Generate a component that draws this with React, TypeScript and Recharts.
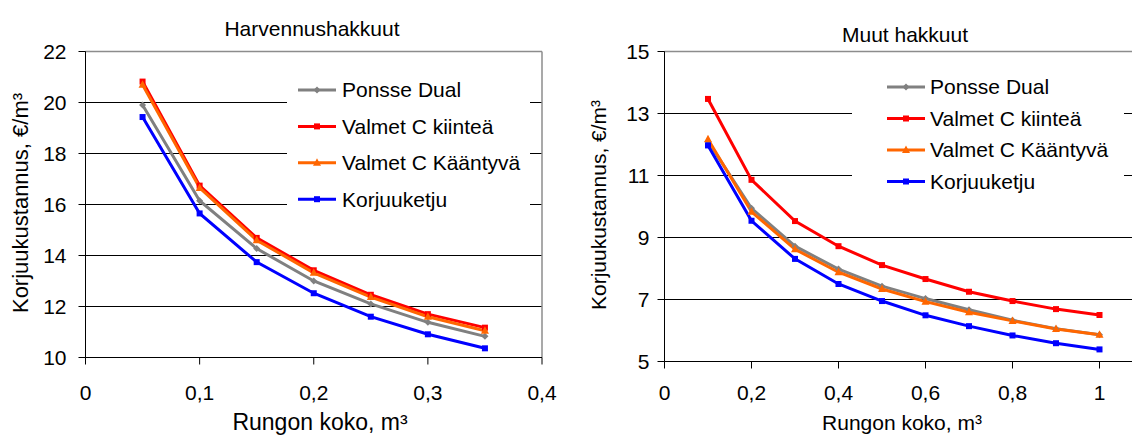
import { LineChart, Line, XAxis, YAxis, CartesianGrid, Legend, ReferenceLine } from 'recharts';

// Rungon koko (m3) and korjuukustannus (€/m3) per machine
const LEFT_X = [0.05, 0.1, 0.15, 0.2, 0.25, 0.3, 0.35];
const LEFT_PONSSE = [19.9, 16.15, 14.27, 13.0, 12.1, 11.38, 10.83];
const LEFT_KIINTEA = [20.82, 16.74, 14.69, 13.42, 12.46, 11.7, 11.17];
const LEFT_KAANTYVA = [20.7, 16.65, 14.6, 13.32, 12.37, 11.6, 11.05];
const LEFT_KORJUU = [19.43, 15.65, 13.74, 12.52, 11.6, 10.91, 10.36];

const RIGHT_X = [0.1, 0.2, 0.3, 0.4, 0.5, 0.6, 0.7, 0.8, 0.9, 1.0];
const RIGHT_PONSSE = [12.1, 9.94, 8.72, 7.98, 7.43, 7.03, 6.67, 6.33, 6.06, 5.86];
const RIGHT_KIINTEA = [13.47, 10.86, 9.53, 8.72, 8.11, 7.66, 7.25, 6.95, 6.69, 6.5];
const RIGHT_KAANTYVA = [12.17, 9.83, 8.62, 7.88, 7.34, 6.93, 6.59, 6.31, 6.05, 5.86];
const RIGHT_KORJUU = [11.97, 9.54, 8.31, 7.5, 6.95, 6.49, 6.14, 5.84, 5.59, 5.39];

const LEFT_X_TICKS = [0, 0.1, 0.2, 0.3, 0.4];
const LEFT_Y_TICKS = [10, 12, 14, 16, 18, 20, 22];
const RIGHT_X_TICKS = [0, 0.2, 0.4, 0.6, 0.8, 1];
const RIGHT_Y_TICKS = [5, 7, 9, 11, 13, 15];

const SERIES = [
  { key: 'ponsse', name: 'Ponsse Dual', color: '#808080', shape: 'diamond' },
  { key: 'kiintea', name: 'Valmet C kiinteä', color: '#FF0000', shape: 'square' },
  { key: 'kaantyva', name: 'Valmet C Kääntyvä', color: '#FF6600', shape: 'triangle' },
  { key: 'korjuu', name: 'Korjuuketju', color: '#0000FF', shape: 'square' },
];

const FONT = '"Liberation Sans", Arial, sans-serif';

const leftData = LEFT_X.map((x, i) => ({
  x,
  ponsse: LEFT_PONSSE[i],
  kiintea: LEFT_KIINTEA[i],
  kaantyva: LEFT_KAANTYVA[i],
  korjuu: LEFT_KORJUU[i],
}));

const rightData = RIGHT_X.map((x, i) => ({
  x,
  ponsse: RIGHT_PONSSE[i],
  kiintea: RIGHT_KIINTEA[i],
  kaantyva: RIGHT_KAANTYVA[i],
  korjuu: RIGHT_KORJUU[i],
}));

const fmt = (v: number) => String(v).replace('.', ',');

function Marker({ cx, cy, shape, color }: { cx: number; cy: number; shape: string; color: string }) {
  if (shape === 'diamond') {
    return <path d={`M${cx},${cy - 3.5}L${cx + 3.5},${cy}L${cx},${cy + 3.5}L${cx - 3.5},${cy}Z`} fill={color} />;
  }
  if (shape === 'triangle') {
    return <path d={`M${cx},${cy - 4.5}L${cx + 4},${cy + 3}L${cx - 4},${cy + 3}Z`} fill={color} />;
  }
  return <rect x={cx - 3} y={cy - 3} width={6} height={6} fill={color} />;
}

function makeDot(shape: string, color: string) {
  return (props: any) => {
    const { cx, cy, index } = props;
    if (cx == null || cy == null) return <g key={index} />;
    return <Marker key={index} cx={cx} cy={cy} shape={shape} color={color} />;
  };
}

function LegendBox({ width, height, first, step, lineX, textX }: any) {
  return (
    <svg width={width} height={height} style={{ display: 'block', background: '#fff' }}>
      {SERIES.map((s, i) => {
        const y = first + i * step;
        return (
          <g key={s.key}>
            <line x1={lineX} x2={lineX + 38} y1={y} y2={y} stroke={s.color} strokeWidth={3} />
            <Marker cx={lineX + 19} cy={y} shape={s.shape} color={s.color} />
            <text x={textX} y={y} dy="0.355em" fontSize={21} fontFamily={FONT} fill="#000">
              {s.name}
            </text>
          </g>
        );
      })}
    </svg>
  );
}

const tickStyle = { fontSize: 21, fontFamily: FONT, fill: '#000' };

function HakkuuChart(props: any) {
  const {
    data, width, height, margin, yWidth, xHeight, xDomain, yDomain, xTicks, yTicks,
    xTickMargin, yTickMargin, legend, title, yLabel, xLabel, topValue,
  } = props;
  return (
    <LineChart width={width} height={height} data={data} margin={margin}>
      <CartesianGrid vertical={false} stroke="#000" strokeWidth={1} />
      <ReferenceLine y={topValue} stroke="#8c8c8c" strokeWidth={1.5} />
      <ReferenceLine x={xDomain[1]} stroke="#8c8c8c" strokeWidth={1.5} />
      <XAxis
        dataKey="x"
        type="number"
        domain={xDomain}
        ticks={xTicks}
        tickFormatter={fmt}
        height={xHeight}
        tickSize={7}
        tickMargin={xTickMargin}
        tick={tickStyle}
        axisLine={{ stroke: '#000' }}
        tickLine={{ stroke: '#000' }}
        allowDataOverflow
      />
      <YAxis
        type="number"
        domain={yDomain}
        ticks={yTicks}
        width={yWidth}
        tickSize={7}
        tickMargin={yTickMargin}
        tick={tickStyle}
        axisLine={{ stroke: '#000' }}
        tickLine={{ stroke: '#000' }}
        interval={0}
      />
      {SERIES.map((s) => (
        <Line
          key={s.key}
          dataKey={s.key}
          name={s.name}
          stroke={s.color}
          strokeWidth={3}
          dot={makeDot(s.shape, s.color)}
          activeDot={false}
          isAnimationActive={false}
        />
      ))}
      <Legend
        layout="vertical"
        align="center"
        verticalAlign="middle"
        wrapperStyle={{ left: legend.left, top: legend.top, width: legend.width, height: legend.height }}
        content={() => <LegendBox {...legend} />}
      />
      <text x={title.x} y={title.y} textAnchor="middle" fontSize={21} fontFamily={FONT} fill="#000">
        {title.text}
      </text>
      <text
        x={yLabel.x}
        y={yLabel.y}
        textAnchor="middle"
        fontSize={yLabel.size}
        fontFamily={FONT}
        fill="#000"
        transform={`rotate(-90, ${yLabel.x}, ${yLabel.y})`}
      >
        {'Korjuukustannus,  €/m³'}
      </text>
      <text x={xLabel.x} y={xLabel.y} textAnchor="middle" fontSize={xLabel.size} fontFamily={FONT} fill="#000">
        Rungon koko, m³
      </text>
    </LineChart>
  );
}

export default function App() {
  return (
    <div
      style={{
        position: 'fixed',
        left: 0,
        top: 0,
        width: 1132,
        height: 435,
        overflow: 'hidden',
        background: '#fff',
        fontFamily: FONT,
      }}
    >
      <div style={{ position: 'absolute', left: 0, top: 0 }}>
        <HakkuuChart
          data={leftData}
          width={560}
          height={435}
          margin={{ top: 51.5, right: 18, left: 0, bottom: 0 }}
          yWidth={85.5}
          xHeight={77.5}
          xDomain={[0, 0.4]}
          yDomain={[10, 22]}
          xTicks={LEFT_X_TICKS}
          yTicks={LEFT_Y_TICKS}
          xTickMargin={21}
          yTickMargin={12}
          topValue={22}
          legend={{ left: 287, top: 68, width: 243, height: 154, first: 22, step: 36.4, lineX: 11, textX: 55 }}
          title={{ text: 'Harvennushakkuut', x: 312, y: 35.5 }}
          yLabel={{ x: 28, y: 203, size: 22 }}
          xLabel={{ x: 320, y: 429.5, size: 23 }}
        />
      </div>
      <div style={{ position: 'absolute', left: 580, top: 0 }}>
        <HakkuuChart
          data={rightData}
          width={600}
          height={435}
          margin={{ top: 51.5, right: 37, left: 0, bottom: 0 }}
          yWidth={84.5}
          xHeight={73.5}
          xDomain={[0, 1.1]}
          yDomain={[5, 15]}
          xTicks={RIGHT_X_TICKS}
          yTicks={RIGHT_Y_TICKS}
          xTickMargin={17}
          yTickMargin={8}
          topValue={15}
          legend={{ left: 272, top: 62, width: 272, height: 140, first: 25, step: 31.5, lineX: 35, textX: 78 }}
          title={{ text: 'Muut hakkuut', x: 325, y: 41.5 }}
          yLabel={{ x: 26, y: 205, size: 21 }}
          xLabel={{ x: 322, y: 430, size: 21 }}
        />
      </div>
    </div>
  );
}
